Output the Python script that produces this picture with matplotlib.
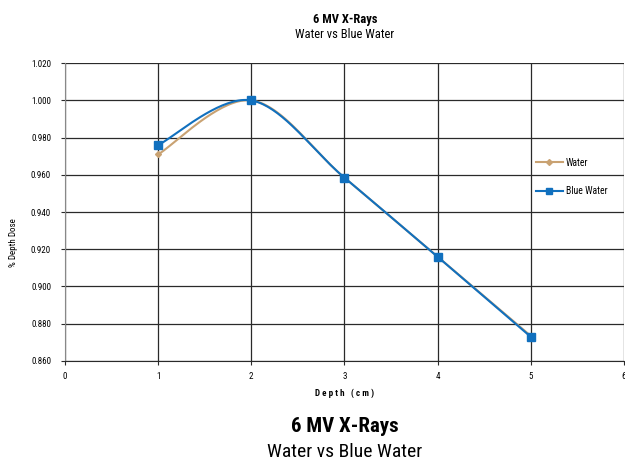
import numpy as np
import matplotlib
matplotlib.use("Agg")
import matplotlib.pyplot as plt

plt.rcParams['font.family'] = ['Roboto Condensed', 'DejaVu Sans']

depth = [1, 2, 3, 4, 5]
water = [0.971, 1.000, 0.9585, 0.916, 0.8735]
blue_water = [0.976, 1.000, 0.9585, 0.916, 0.873]
xticks = [0, 1, 2, 3, 4, 5, 6]
yticks = [0.860, 0.880, 0.900, 0.920, 0.940, 0.960, 0.980, 1.000, 1.020]


def smooth(x, y, n=40):
    # excel-style smoothed line: catmull-rom with the end points doubled
    x = np.asarray(x, float)
    y = np.asarray(y, float)
    px = np.concatenate([[x[0]], x, [x[-1]]])
    py = np.concatenate([[y[0]], y, [y[-1]]])
    xs, ys = [], []
    t = np.linspace(0, 1, n)
    for i in range(1, len(px) - 2):
        for p, out in ((px, xs), (py, ys)):
            p0, p1, p2, p3 = p[i - 1], p[i], p[i + 1], p[i + 2]
            out.extend(0.5 * ((2 * p1) + (-p0 + p2) * t
                              + (2 * p0 - 5 * p1 + 4 * p2 - p3) * t ** 2
                              + (-p0 + 3 * p1 - 3 * p2 + p3) * t ** 3))
    return np.array(xs), np.array(ys)


fig = plt.figure(figsize=(6.25, 4.58), dpi=100)
ax = fig.add_axes([0.104, 0.212, 0.894, 0.650])

tan = '#C9A272'
blue = '#1170BE'

sx, sy = smooth(depth, water)
ax.plot(sx, sy, color=tan, lw=1.5, zorder=3)
ax.plot(depth, water, ls='none', marker='D', ms=3, color=tan, zorder=3)
ax.plot([], [], color=tan, lw=1.5, marker='D', ms=3, label='Water')

sx, sy = smooth(depth, blue_water)
ax.plot(sx, sy, color=blue, lw=1.5, zorder=4)
ax.plot(depth, blue_water, ls='none', marker='s', ms=6, color=blue, zorder=4)
ax.plot([], [], color=blue, lw=1.5, marker='s', ms=5, label='Blue Water')

ax.set_xlim(0, 6)
ax.set_ylim(0.860, 1.020)
ax.set_xticks(xticks)
ax.set_yticks(yticks)
ax.set_xticklabels([str(v) for v in xticks], fontsize=6.5)
ax.set_yticklabels(['%.3f' % v for v in yticks], fontsize=6.5)
ax.grid(True, color='#2a2a2a', lw=0.9)
ax.set_axisbelow(True)
for s in ['top', 'right']:
    ax.spines[s].set_visible(False)
ax.spines['left'].set_color('#888888')
ax.spines['bottom'].set_color('#2a2a2a')
ax.tick_params(axis='both', length=3, width=0.8, color='#2a2a2a')
ax.tick_params(axis='y', pad=7)
ax.tick_params(axis='x', pad=5)

fig.text(345 / 625, 1 - 393 / 458, 'D e p t h   ( c m )', ha='center', va='center',
         fontsize=6.5, fontweight='bold')
fig.text(14 / 625, 1 - 243 / 458, '% Depth Dose', ha='center', va='center',
         fontsize=6.5, rotation=90)

ax.legend(loc='center left', bbox_to_anchor=(527 / 625, 1 - 177 / 458),
          bbox_transform=fig.transFigure, frameon=False,
          fontsize=7, handlelength=2.8, labelspacing=1.9, handletextpad=0.3)

fig.text(345 / 625, 1 - 20 / 458, '6 MV X-Rays', ha='center', va='center',
         fontsize=9, fontweight='bold')
fig.text(345 / 625, 1 - 35 / 458, 'Water vs Blue Water', ha='center', va='center', fontsize=9)
fig.text(345 / 625, 1 - 426 / 458, '6 MV X-Rays', ha='center', va='center',
         fontsize=15, fontweight='bold')
fig.text(345 / 625, 1 - 443 / 458, 'Water vs Blue Water', ha='center', va='top', fontsize=14)

fig.savefig('out.png', dpi=100)
